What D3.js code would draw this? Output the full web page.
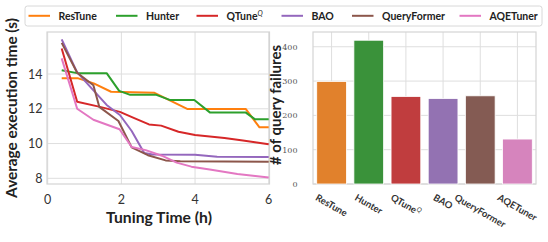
<!DOCTYPE html>
<html>
<head>
<meta charset="utf-8">
<script src="https://cdn.jsdelivr.net/npm/d3@7"></script>
<style>
  body { margin: 0; background: #fff; }
  svg { display: block; }
</style>
</head>
<body>
<div id="renderDiv"></div>
<script>
// ---- data
let methods = ["ResTune", "Hunter", "QTune", "BAO", "QueryFormer", "AQETuner"];
let lineColors = ["#ff7f0e", "#2ca02c", "#d62728", "#9467bd", "#8c564b", "#e377c2"];
let barColors = ["#e1812c", "#3a923a", "#c03d3e", "#9372b2", "#845b53", "#d684bd"];

// [tuning time (h), average execution time (s)]
let resTune = [[0.38,13.75],[0.83,13.75],[1.25,13.46],[1.72,12.98],[2.9,12.92],[3.8,11.98],[5.38,11.98],[5.75,10.93],[6.0,10.93]];
let hunter = [[0.38,14.22],[0.8,14.05],[1.6,14.05],[1.94,13.03],[2.24,12.8],[2.95,12.8],[3.33,12.5],[3.98,12.5],[4.41,11.78],[5.38,11.78],[5.63,11.39],[6.0,11.39]];
let qtune = [[0.38,15.47],[0.8,12.4],[1.42,12.11],[1.96,11.82],[2.35,11.46],[2.75,11.1],[3.08,11.03],[3.55,10.68],[4.0,10.49],[4.8,10.32],[5.3,10.18],[6.0,9.96]];
let bao = [[0.38,15.99],[0.79,14.13],[1.15,13.27],[1.6,12.22],[1.96,11.64],[2.28,10.72],[2.62,9.46],[2.85,9.37],[4.0,9.36],[4.6,9.24],[6.0,9.22]];
let queryFormer = [[0.38,15.79],[0.8,14.07],[1.24,13.35],[1.4,12.11],[1.92,11.3],[2.28,9.78],[2.72,9.33],[3.2,9.03],[3.6,8.98],[6.0,8.95]];
let aqeTuner = [[0.38,14.9],[0.8,12.0],[1.24,11.37],[1.95,10.82],[2.28,9.8],[2.66,9.62],[3.1,9.3],[3.5,8.9],[3.9,8.67],[4.4,8.5],[5.15,8.25],[6.0,8.05]];
let lineSeries = [resTune, hunter, qtune, bao, queryFormer, aqeTuner];

let failures = [299, 419, 255, 249, 257, 131];

let xTicks = [0, 2, 4, 6];
let yTicks = [8, 10, 12, 14];
let barTicks = [0, 100, 200, 300, 400];

// ---- canvas
let W = 548, H = 242;
let sans = "Lato, 'DejaVu Sans', sans-serif";
let serif = "'DejaVu Serif', 'Liberation Serif', serif";
let gridColor = "#dedede";

let svg = d3.select("#renderDiv").append("svg")
    .attr("width", W)
    .attr("height", H);

// grow/shrink a label's font until it covers the wanted length
let fitText = function(sel, target){
    let fs = 13;
    sel.style("font-size", fs + "px");
    let len = sel.node().getComputedTextLength();
    sel.style("font-size", (fs * target / len) + "px");
};

// ===== left: line chart
let L = {left: 47, right: 269.5, top: 32, bottom: 184};
let x = d3.scaleLinear().domain([0, 6]).range([47.7, 268.7]);
let y = d3.scaleLinear().domain([8, 14]).range([178.3, 74]);

let gl = svg.append("g");
gl.selectAll(".vgrid").data(xTicks).enter().append("line")
    .attr("x1", function(d){ return x(d); }).attr("x2", function(d){ return x(d); })
    .attr("y1", L.top).attr("y2", L.bottom)
    .attr("stroke", gridColor).attr("stroke-width", 1);
gl.selectAll(".hgrid").data(yTicks).enter().append("line")
    .attr("x1", L.left).attr("x2", L.right)
    .attr("y1", function(d){ return y(d); }).attr("y2", function(d){ return y(d); })
    .attr("stroke", gridColor).attr("stroke-width", 1);
gl.append("rect")
    .attr("x", L.left).attr("y", L.top)
    .attr("width", L.right - L.left).attr("height", L.bottom - L.top)
    .attr("fill", "none").attr("stroke", "#d4d4d4").attr("stroke-width", 1.2);

let line = d3.line()
    .x(function(d){ return x(d[0]); })
    .y(function(d){ return y(d[1]); });

gl.selectAll(".series").data(lineSeries).enter().append("path")
    .attr("fill", "none")
    .attr("stroke", function(d, i){ return lineColors[i]; })
    .attr("stroke-width", 2)
    .attr("stroke-linejoin", "round")
    .attr("d", line);

gl.selectAll(".xtick").data(xTicks).enter().append("text")
    .attr("x", function(d){ return x(d); }).attr("y", 204)
    .attr("text-anchor", "middle")
    .style("font-family", sans).style("font-size", "12.5px").attr("fill", "#333")
    .text(function(d){ return d; });
gl.selectAll(".ytick").data(yTicks).enter().append("text")
    .attr("x", 42.5).attr("y", function(d){ return y(d) + 4.5; })
    .attr("text-anchor", "end")
    .style("font-family", sans).style("font-size", "12.5px").attr("fill", "#333")
    .text(function(d){ return d; });

let xLabel = gl.append("text")
    .attr("x", 159).attr("y", 222.5)
    .attr("text-anchor", "middle")
    .style("font-family", sans).style("font-weight", "bold")
    .attr("fill", "#222")
    .text("Tuning Time (h)");
fitText(xLabel, 106);
let yLabel = gl.append("text")
    .attr("transform", "translate(16.5,108)rotate(-90)")
    .attr("text-anchor", "middle")
    .style("font-family", sans).style("font-weight", "bold")
    .attr("fill", "#222")
    .text("Average execution time (s)");
fitText(yLabel, 180);

// ===== right: bar chart
let R = {left: 313, right: 536, top: 32, bottom: 184};
let bx = d3.scaleBand().domain(methods).range([R.left, R.right]).paddingInner(0.2).paddingOuter(0.1);
let by = d3.scaleLinear().domain([0, 443]).range([R.bottom, R.top]);

let gr = svg.append("g");
gr.selectAll(".vgrid").data(methods).enter().append("line")
    .attr("x1", function(d){ return bx(d) + bx.bandwidth() / 2; })
    .attr("x2", function(d){ return bx(d) + bx.bandwidth() / 2; })
    .attr("y1", R.top).attr("y2", R.bottom)
    .attr("stroke", gridColor).attr("stroke-width", 1);
gr.selectAll(".hgrid").data(barTicks).enter().append("line")
    .attr("x1", R.left).attr("x2", R.right)
    .attr("y1", function(d){ return by(d); }).attr("y2", function(d){ return by(d); })
    .attr("stroke", gridColor).attr("stroke-width", 1);
gr.append("rect")
    .attr("x", R.left).attr("y", R.top)
    .attr("width", R.right - R.left).attr("height", R.bottom - R.top)
    .attr("fill", "none").attr("stroke", "#d4d4d4").attr("stroke-width", 1.2);

gr.selectAll(".bar").data(failures).enter().append("rect")
    .attr("x", function(d, i){ return bx(methods[i]); })
    .attr("y", function(d){ return by(d); })
    .attr("width", bx.bandwidth())
    .attr("height", function(d){ return by(0) - by(d); })
    .attr("fill", function(d, i){ return barColors[i]; })
    .attr("stroke", "#fff").attr("stroke-width", 0.8);

gr.selectAll(".ytick").data(barTicks).enter().append("text")
    .attr("x", 297.5).attr("y", function(d){ return by(d) + 3; })
    .attr("text-anchor", "end")
    .style("font-family", serif).style("font-size", "8px").attr("fill", "#555")
    .text(function(d){ return d; });

let bLabel = gr.append("text")
    .attr("transform", "translate(281,105)rotate(-90)")
    .attr("text-anchor", "middle")
    .style("font-family", sans).style("font-weight", "bold")
    .attr("fill", "#222")
    .text("# of query failures");
fitText(bLabel, 120);

// rotated category labels, hanging from the tick like matplotlib ha=center
let xl = gr.selectAll(".xlab").data(methods).enter().append("text")
    .attr("text-anchor", "middle")
    .style("font-family", sans).style("font-size", "9.5px").style("font-weight", "bold")
    .attr("fill", "#333");
xl.append("tspan").text(function(d){ return d; });
xl.filter(function(d){ return d == "QTune"; }).append("tspan")
    .attr("dy", -3.5).style("font-size", "6.5px").style("font-style", "italic").style("font-weight", "normal")
    .text("Q");
xl.attr("transform", function(d){
    let len = this.getComputedTextLength();
    let a = 30 * Math.PI / 180;
    let cx = bx(d) + bx.bandwidth() / 2;
    let cy = 193 + (len / 2) * Math.sin(a) + 4 * Math.cos(a);
    return "translate(" + cx + "," + cy + ")rotate(30)translate(0,3.5)";
});

// ===== legend
let lg = svg.append("g");
lg.append("rect")
    .attr("x", 25).attr("y", 6).attr("width", 517).attr("height", 20)
    .attr("rx", 2.5)
    .attr("fill", "#fff").attr("fill-opacity", 0.85)
    .attr("stroke", "#d8d8d8").attr("stroke-width", 1);
let legendX = [28.5, 116, 196.5, 281.5, 352, 459.5];
let item = lg.selectAll(".item").data(methods).enter().append("g")
    .attr("transform", function(d, i){ return "translate(" + legendX[i] + ",15.8)"; });
item.append("line")
    .attr("x1", 0).attr("x2", 21.5)
    .attr("stroke", function(d, i){ return lineColors[i]; })
    .attr("stroke-width", 2);
let lt = item.append("text")
    .attr("x", 30).attr("y", 3.8)
    .style("font-family", sans).style("font-size", "10.5px").style("font-weight", "bold")
    .attr("fill", "#222");
lt.append("tspan").text(function(d){ return d; });
lt.filter(function(d){ return d == "QTune"; }).append("tspan")
    .attr("dy", -4).style("font-size", "7px").style("font-style", "italic").style("font-weight", "normal")
    .text("Q");
</script>
</body>
</html>
